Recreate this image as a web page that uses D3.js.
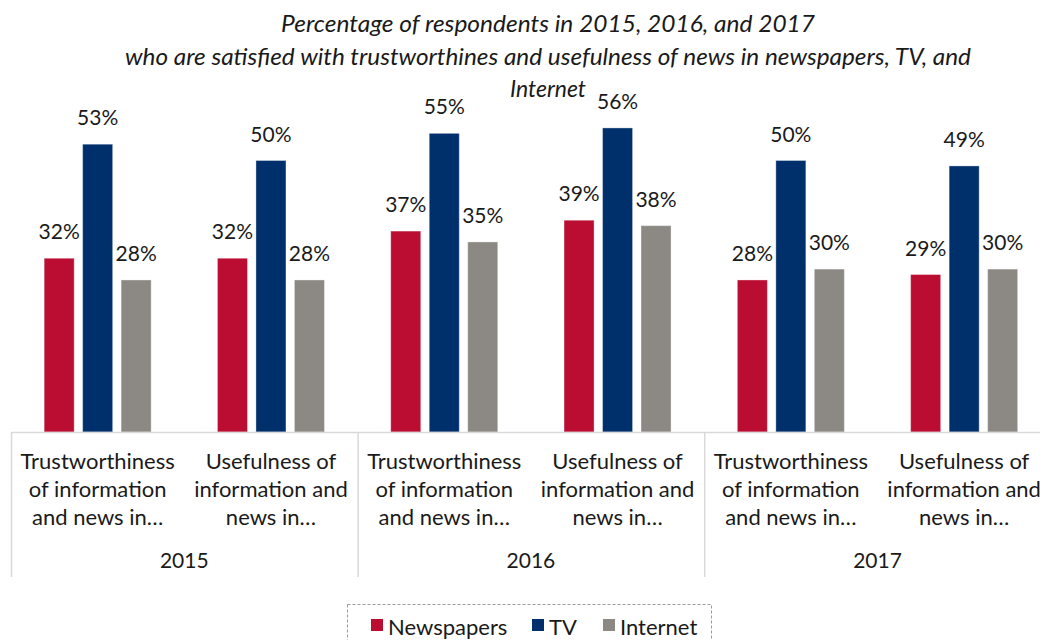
<!DOCTYPE html>
<html>
<head>
<meta charset="utf-8">
<script src="https://cdn.jsdelivr.net/npm/d3@7"></script>
<style>
  html, body { margin: 0; padding: 0; background: #ffffff; }
  svg { display: block; }
</style>
</head>
<body>
<svg id="chart" width="1040" height="640"></svg>
<script>
// Survey years and the two questions asked each year
const years = ["2015", "2016", "2017"];
const questions = ["Trustworthiness", "Usefulness"];
const questionLines = {
  Trustworthiness: ["Trustworthiness", "of information", "and news in…"],
  Usefulness: ["Usefulness of", "information and", "news in…"]
};
const series = ["Newspapers", "TV", "Internet"];

// Share of satisfied respondents, per year/question, per medium
const newspapers = [0.32, 0.32, 0.37, 0.39, 0.28, 0.29];
const tv         = [0.53, 0.50, 0.55, 0.56, 0.50, 0.49];
const internet   = [0.28, 0.28, 0.35, 0.38, 0.30, 0.30];

const subtitleLines = [
  "Percentage of respondents in 2015, 2016, and 2017",
  "who are satisfied with trustworthines and usefulness of news in newspapers, TV, and",
  "Internet"
];

const colors = { Newspapers: "#bb0d31", TV: "#00306c", Internet: "#8c8984" };

// Build one row per (year, question)
const categories = [];
years.forEach(y => questions.forEach(q => categories.push(y + "|" + q)));
const rows = categories.map((c, i) => ({
  key: c,
  values: { Newspapers: newspapers[i], TV: tv[i], Internet: internet[i] }
}));

const svg = d3.select("#chart");
const font = "Lato, 'Open Sans', sans-serif";
const textColor = "#1a1a1a";

const plotLeft = 11, catWidth = 173.3;
const plotRight = plotLeft + catWidth * categories.length;
const baseY = 432;

const x0 = d3.scaleBand().domain(categories).range([plotLeft, plotRight]).padding(0);
const x1 = d3.scaleBand().domain(series).range([-53.5, 53.5]).paddingInner(0.22).paddingOuter(0);
const y = d3.scaleLinear().domain([0, 1]).range([baseY, baseY - 543]);

// Subtitle
const subtitleX = 548;
const subtitleY = [32, 65, 97];
const subtitleWidths = [534, 846, 76];
svg.append("g").selectAll("text")
  .data(subtitleLines)
  .join("text")
  .attr("x", subtitleX)
  .attr("y", (d, i) => subtitleY[i])
  .attr("text-anchor", "middle")
  .attr("textLength", (d, i) => subtitleWidths[i])
  .attr("lengthAdjust", "spacingAndGlyphs")
  .style("font-family", font)
  .style("font-style", "italic")
  .style("font-size", "24px")
  .style("fill", textColor)
  .text(d => d);

// Bars
const groups = svg.append("g").selectAll("g")
  .data(rows)
  .join("g")
  .attr("transform", d => `translate(${x0(d.key) + x0.bandwidth() / 2},0)`);

groups.selectAll("rect")
  .data(d => series.map(s => ({ s, v: d.values[s] })))
  .join("rect")
  .attr("x", d => x1(d.s))
  .attr("width", x1.bandwidth())
  .attr("y", d => y(d.v))
  .attr("height", d => y(0) - y(d.v))
  .attr("fill", d => colors[d.s])
  .attr("stroke", "#ffffff")
  .attr("stroke-opacity", 0.35)
  .attr("stroke-width", 1);

// Value labels
groups.selectAll("text")
  .data(d => series.map(s => ({ s, v: d.values[s] })))
  .join("text")
  .attr("x", d => x1(d.s) + x1.bandwidth() / 2)
  .attr("y", d => y(d.v) - 19)
  .attr("text-anchor", "middle")
  .style("font-family", font)
  .style("font-size", "21px")
  .style("fill", textColor)
  .text(d => Math.round(d.v * 100) + "%");

// Category axis with wrapped question labels
const axis = svg.append("g")
  .attr("transform", `translate(0,${baseY})`)
  .call(d3.axisBottom(x0).tickSize(0).tickPadding(0).tickFormat(d => d.split("|")[1]));
axis.select(".domain").remove();
axis.append("line")
  .attr("x1", plotLeft).attr("x2", plotRight)
  .attr("y1", 0.5).attr("y2", 0.5)
  .attr("stroke", "#d9d9d9").attr("stroke-width", 1.5);
axis.selectAll(".tick text").each(function(d) {
  const t = d3.select(this);
  const lines = questionLines[d.split("|")[1]];
  t.text(null)
    .attr("y", 0).attr("dy", null)
    .style("font-family", font)
    .style("font-size", "22px")
    .style("fill", textColor);
  lines.forEach((ln, i) => {
    t.append("tspan").attr("x", 0).attr("y", 37 + i * 28).text(ln);
  });
});

// Year labels and separators
const yearWidth = catWidth * questions.length;
const yearScale = d3.scaleBand().domain(years).range([plotLeft, plotLeft + yearWidth * years.length]);
svg.append("g").selectAll("line")
  .data(years)
  .join("line")
  .attr("x1", d => yearScale(d) + 0.5).attr("x2", d => yearScale(d) + 0.5)
  .attr("y1", baseY).attr("y2", 577)
  .attr("stroke", "#d9d9d9").attr("stroke-width", 1.5);
svg.append("g").selectAll("text")
  .data(years)
  .join("text")
  .attr("x", d => yearScale(d) + yearScale.bandwidth() / 2)
  .attr("y", 568)
  .attr("text-anchor", "middle")
  .style("font-family", font)
  .style("font-size", "21px")
  .style("fill", textColor)
  .text(d => d);

// Legend
const legend = svg.append("g");
legend.append("rect")
  .attr("x", 347.5).attr("y", 604.5)
  .attr("width", 364).attr("height", 60)
  .attr("fill", "none")
  .attr("stroke", "#9a9a9a")
  .attr("stroke-dasharray", "3,2");
const legendX = { Newspapers: 371, TV: 532, Internet: 603 };
const items = legend.selectAll("g.item")
  .data(series)
  .join("g")
  .attr("class", "item")
  .attr("transform", d => `translate(${legendX[d]},0)`);
items.append("rect")
  .attr("x", 0).attr("y", 619)
  .attr("width", 12).attr("height", 12)
  .attr("fill", d => colors[d]);
items.append("text")
  .attr("x", 17).attr("y", 635)
  .style("font-family", font)
  .style("font-size", "22px")
  .style("fill", textColor)
  .text(d => d);
</script>
</body>
</html>
